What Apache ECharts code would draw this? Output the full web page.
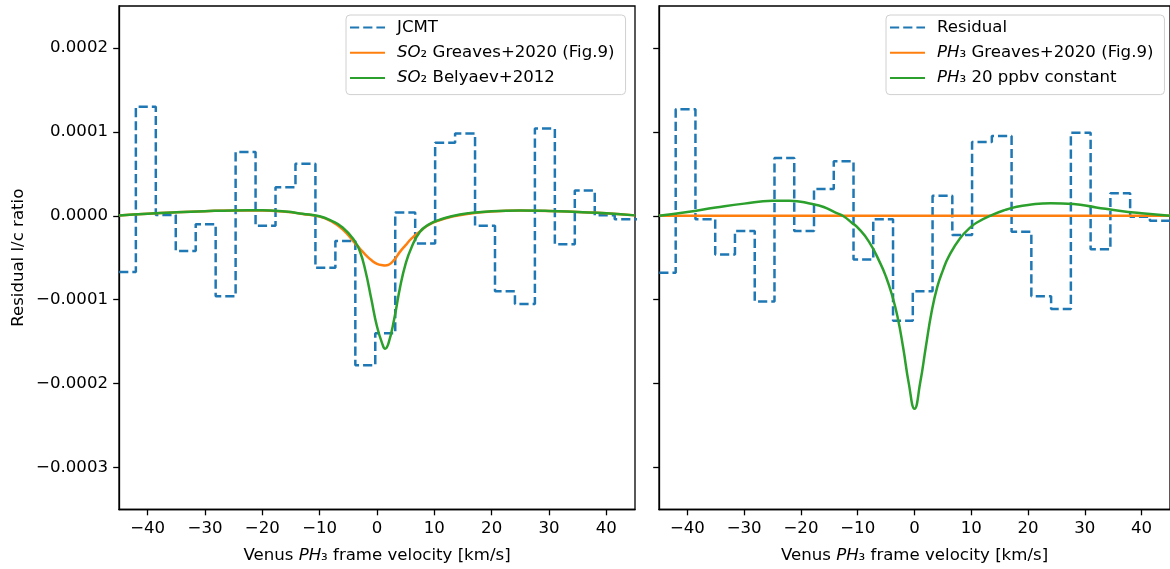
<!DOCTYPE html>
<html>
<head>
<meta charset="utf-8">
<script src="https://cdn.jsdelivr.net/npm/echarts@6/dist/echarts.min.js"></script>
<style>
  html, body { margin: 0; padding: 0; background: #ffffff; }
  #chart { width: 1170px; height: 569px; }
</style>
</head>
<body>
<div id="chart"></div>
<script>
// Axis ticks
const velTicks = [-40, -30, -20, -10, 0, 10, 20, 30, 40];
const levelTicks = [-0.0003, -0.0002, -0.0001, 0, 0.0001, 0.0002];

// Spectral channel centres (km/s) shared by the observed spectra
const channelVel = [-47.28, -43.80, -40.32, -36.84, -33.36, -29.88, -26.40, -22.92, -19.44,
  -15.96, -12.48, -9.00, -5.52, -2.04, 1.44, 4.92, 8.40, 11.88, 15.36, 18.84, 22.32,
  25.80, 29.28, 32.76, 36.24, 39.72, 43.20, 46.68];

// JCMT line-to-continuum spectrum
const jcmt = [-0.000067, -0.000067, 0.000130, 0.000001, -0.000042, -0.000010, -0.000096,
  0.000076, -0.000012, 0.000034, 0.000062, -0.000062, -0.000030, -0.000178, -0.000140,
  0.000004, -0.000033, 0.000087, 0.000098, -0.000012, -0.000090, -0.000105, 0.000104,
  -0.000034, 0.000030, 0.0000005, -0.000004, -0.000004];

// Residual after removing the SO2 model
const residual = [-0.000068, -0.000068, 0.000127, -0.000004, -0.000046, -0.000018, -0.000102,
  0.000069, -0.000018, 0.000032, 0.000065, -0.000052, -0.000004, -0.000125, -0.000090,
  0.000024, -0.000023, 0.000088, 0.000095, -0.000019, -0.000096, -0.000111, 0.000099,
  -0.000040, 0.000027, -0.000001, -0.000006, -0.000006];

// SO2 model profiles
const so2Vel = [-45, -40, -35, -30, -25, -20, -16, -13, -10, -8, -6, -4, -3, -2, -1, 0, 1,
  1.4, 2, 3, 4, 5, 6, 7.5, 9, 11, 13, 16, 20, 25, 30, 35, 40, 45];
const so2Greaves = [0.0000003, 0.0000025, 0.0000042, 0.0000055, 0.0000064, 0.0000064,
  0.0000048, 0.0000022, -0.0000010, -0.0000065, -0.0000160, -0.0000315, -0.0000390,
  -0.0000465, -0.0000528, -0.0000573, -0.0000590, -0.0000592, -0.0000585, -0.0000525,
  -0.0000430, -0.0000350, -0.0000272, -0.0000187, -0.0000110, -0.0000050, -0.0000012,
  0.0000025, 0.0000052, 0.0000062, 0.0000058, 0.0000045, 0.0000030, 0.0000005];
const so2Belyaev = [0.0000003, 0.0000025, 0.0000042, 0.0000055, 0.0000064, 0.0000066,
  0.0000050, 0.0000025, -0.0000005, -0.0000058, -0.0000140, -0.0000290, -0.0000420,
  -0.0000660, -0.0000990, -0.0001320, -0.0001540, -0.0001583, -0.0001520, -0.0001230,
  -0.0000860, -0.0000570, -0.0000380, -0.0000190, -0.0000105, -0.0000045, -0.0000005,
  0.0000030, 0.0000055, 0.0000063, 0.0000058, 0.0000045, 0.0000030, 0.0000005];

// PH3 model profiles
const ph3Vel = [-45, -40, -35, -30, -25, -22, -18, -16, -14, -12.5, -11, -10, -8, -6, -5, -4,
  -3, -2, -1, 0, 1, 2, 3, 4, 5, 6, 8, 10, 11, 13.5, 16, 18, 20, 24, 28, 32, 36, 40, 45];
const ph3Greaves = [0, 0, 0, 0, 0, 0, 0, 0, 0, 0, 0, 0, 0, 0, 0, 0, 0, 0, 0, 0, 0, 0, 0, 0,
  0, 0, 0, 0, 0, 0, 0, 0, 0, 0, 0, 0, 0, 0, 0];
const ph3Const = [0.0000000, 0.0000045, 0.0000098, 0.0000145, 0.0000178, 0.0000180,
  0.0000140, 0.0000105, 0.0000040, -0.0000005, -0.0000085, -0.0000140, -0.0000310,
  -0.0000570, -0.0000730, -0.0000935, -0.0001200, -0.0001570, -0.0002000, -0.0002300,
  -0.0001990, -0.0001560, -0.0001150, -0.0000850, -0.0000650, -0.0000490, -0.0000270,
  -0.0000130, -0.0000080, 0.0000005, 0.0000070, 0.0000108, 0.0000130, 0.0000150,
  0.0000140, 0.0000100, 0.0000060, 0.0000030, 0.0000000];

const FONT = 'DejaVu Sans';
const FS = 16.6;
const BLUE = '#1f77b4', ORANGE = '#ff7f0e', GREEN = '#2ca02c';
const MINUS = '\u2212';

const pairs = (xs, ys) => xs.map((x, i) => [x, ys[i]]);

const richStyles = {
  it: { fontFamily: FONT, fontSize: FS, fontStyle: 'italic', color: '#000', lineHeight: 20 },
  n: { fontFamily: FONT, fontSize: FS, color: '#000', lineHeight: 20 }
};

function legendLabel(name) {
  const m = name.match(/^(SO|PH)(\d)(.*)$/);
  if (!m) return '{n|' + name + '}';
  const sub = m[2] === '2' ? '\u2082' : '\u2083';
  return '{it|' + m[1] + '}{n|' + sub + m[3] + '}';
}

function xAxisCfg(gridIndex) {
  return {
    type: 'value', gridIndex, min: -45, max: 45,
    name: '{n|Venus }{it|PH}{n|\u2083 frame velocity [km/s]}',
    nameLocation: 'middle', nameGap: 36,
    nameTextStyle: { rich: richStyles },
    axisLine: { show: true, onZero: false, lineStyle: { color: '#000', width: 1.3 } },
    axisTick: { show: true, length: 5.8, lineStyle: { color: '#000', width: 1.3 }, customValues: velTicks },
    axisLabel: {
      show: true, margin: 11, fontFamily: FONT, fontSize: FS, color: '#000',
      customValues: velTicks,
      formatter: v => String(v).replace('-', MINUS)
    },
    splitLine: { show: false }
  };
}

function yAxisCfg(gridIndex, withLabels) {
  return {
    type: 'value', gridIndex, min: -0.00035, max: 0.00025,
    name: withLabels ? 'Residual l/c ratio' : '',
    nameLocation: 'middle', nameRotate: 90, nameGap: 92,
    nameTextStyle: { fontFamily: FONT, fontSize: FS, color: '#000' },
    axisLine: { show: true, onZero: false, lineStyle: { color: '#000', width: 1.3 } },
    axisTick: { show: true, length: 5.8, lineStyle: { color: '#000', width: 1.3 }, customValues: levelTicks },
    axisLabel: {
      show: withLabels, margin: 11, fontFamily: FONT, fontSize: FS, color: '#000',
      customValues: levelTicks,
      formatter: v => (Math.abs(v) < 1e-12 ? '0.0000' : v.toFixed(4).replace('-', MINUS))
    },
    splitLine: { show: false }
  };
}

function legendCfg(left, names) {
  return {
    left, top: 15, orient: 'vertical',
    data: names,
    itemWidth: 35, itemHeight: 14, itemGap: 8.3,
    padding: [4, 11, 8, 3],
    backgroundColor: 'rgba(255,255,255,0.8)',
    borderColor: '#d0d0d0', borderWidth: 1, borderRadius: 4,
    // line-only keys: hide the marker a line series would otherwise get
    itemStyle: { opacity: 0 },
    textStyle: { fontFamily: FONT, fontSize: FS, color: '#000', padding: [0, 0, 0, 7], rich: richStyles },
    formatter: legendLabel,
    selectedMode: false
  };
}

function stepSeries(name, ys, idx) {
  return {
    name, type: 'line', xAxisIndex: idx, yAxisIndex: idx,
    data: pairs(channelVel, ys), step: 'middle', symbol: 'none',
    lineStyle: { color: BLUE, width: 2.5, type: [9.2, 4] },
    itemStyle: { color: BLUE }, z: 2
  };
}

function curveSeries(name, xs, ys, color, idx, z) {
  return {
    name, type: 'line', xAxisIndex: idx, yAxisIndex: idx,
    data: pairs(xs, ys), smooth: 0.5, symbol: 'none',
    lineStyle: { color, width: 2.5 }, itemStyle: { color }, z
  };
}

const chart = echarts.init(document.getElementById('chart'), null, { renderer: 'canvas' });
chart.setOption({
  animation: false,
  backgroundColor: '#ffffff',
  grid: [
    { left: 119, top: 6, width: 516, height: 506, show: true, borderColor: '#000', borderWidth: 1.3, backgroundColor: '#fff' },
    { left: 659, top: 6, width: 517, height: 506, show: true, borderColor: '#000', borderWidth: 1.3, backgroundColor: '#fff' }
  ],
  xAxis: [xAxisCfg(0), xAxisCfg(1)],
  yAxis: [yAxisCfg(0, true), yAxisCfg(1, false)],
  legend: [
    legendCfg(346, ['JCMT', 'SO2 Greaves+2020 (Fig.9)', 'SO2 Belyaev+2012']),
    legendCfg(886, ['Residual', 'PH3 Greaves+2020 (Fig.9)', 'PH3 20 ppbv constant'])
  ],
  series: [
    stepSeries('JCMT', jcmt, 0),
    curveSeries('SO2 Greaves+2020 (Fig.9)', so2Vel, so2Greaves, ORANGE, 0, 3),
    curveSeries('SO2 Belyaev+2012', so2Vel, so2Belyaev, GREEN, 0, 4),
    stepSeries('Residual', residual, 1),
    curveSeries('PH3 Greaves+2020 (Fig.9)', ph3Vel, ph3Greaves, ORANGE, 1, 3),
    curveSeries('PH3 20 ppbv constant', ph3Vel, ph3Const, GREEN, 1, 4)
  ]
});
</script>
</body>
</html>
